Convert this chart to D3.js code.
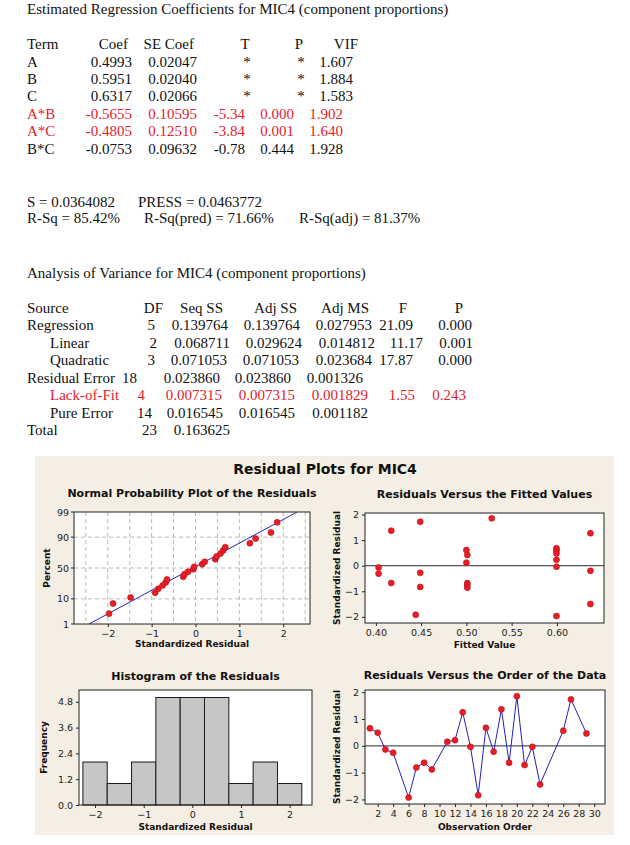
<!DOCTYPE html>
<meta charset="utf-8">
<style>
  body { margin: 0; background: #fff; }
  .rep { font-family: "Liberation Serif", "Times New Roman", serif; font-size: 15px; fill: #111; }
  .rep.hot { fill: #e3202c; }
  .gt { font-family: "DejaVu Sans", Verdana, sans-serif; font-weight: bold; fill: #111; }
  .ax text { font-family: "DejaVu Sans", Verdana, sans-serif; font-size: 9.5px; fill: #222; }
  .ax line { stroke: #222; }
  .ax path { display: none; }
</style>
<svg width="630" height="845"></svg>
<script src="https://cdn.jsdelivr.net/npm/d3@7"></script>
<script>
// ---- coefficient table ----
var coefHeader = ["Term", "Coef", "SE Coef", "T", "P", "VIF"];
var coefTerms = ["A", "B", "C", "A*B", "A*C", "B*C"];
var coefValues = ["0.4993", "0.5951", "0.6317", "-0.5655", "-0.4805", "-0.0753"];
var coefSE = ["0.02047", "0.02040", "0.02066", "0.10595", "0.12510", "0.09632"];
var coefT = ["*", "*", "*", "-5.34", "-3.84", "-0.78"];
var coefP = ["*", "*", "*", "0.000", "0.001", "0.444"];
var coefVIF = ["1.607", "1.884", "1.583", "1.902", "1.640", "1.928"];
var coefRed = [false, false, false, true, true, false];

var statsLine1 = ["S = 0.0364082", "PRESS = 0.0463772"];
var statsLine2 = ["R-Sq = 85.42%", "R-Sq(pred) = 71.66%", "R-Sq(adj) = 81.37%"];

// ---- analysis of variance ----
var anovaHeader = ["Source", "DF", "Seq SS", "Adj SS", "Adj MS", "F", "P"];
var anovaSource = ["Regression", "Linear", "Quadratic", "Residual Error", "Lack-of-Fit", "Pure Error", "Total"];
var anovaIndent = [false, true, true, false, true, true, false];
var anovaDF = ["5", "2", "3", "18", "4", "14", "23"];
var anovaSeqSS = ["0.139764", "0.068711", "0.071053", "0.023860", "0.007315", "0.016545", "0.163625"];
var anovaAdjSS = ["0.139764", "0.029624", "0.071053", "0.023860", "0.007315", "0.016545", ""];
var anovaAdjMS = ["0.027953", "0.014812", "0.023684", "0.001326", "0.001829", "0.001182", ""];
var anovaF = ["21.09", "11.17", "17.87", "", "1.55", "", ""];
var anovaP = ["0.000", "0.001", "0.000", "", "0.243", "", ""];
var anovaRed = [false, false, false, false, true, false, false];

// ---- residual plots ----
var probResid = [-1.97, -1.88, -1.48, -0.92, -0.85, -0.75, -0.68, -0.65, -0.28, -0.25, -0.17, -0.05,
                 -0.03, 0.15, 0.21, 0.45, 0.48, 0.57, 0.63, 0.68, 1.24, 1.37, 1.72, 1.86];
var probPct = [2.9, 7.0, 11.1, 15.2, 19.3, 23.4, 27.5, 31.6, 35.7, 39.8, 43.9, 48.0,
               52.0, 56.1, 60.2, 64.3, 68.4, 72.5, 76.6, 80.7, 84.8, 88.9, 93.0, 97.1];
var probFitMean = -0.055, probFitSd = 1.02;
var probTicks = [1, 10, 50, 90, 99];

var fittedVals = [0.403, 0.403, 0.417, 0.417, 0.444, 0.449, 0.449, 0.449, 0.500, 0.501, 0.500, 0.501,
                  0.501, 0.501, 0.528, 0.5995, 0.5995, 0.5995, 0.5995, 0.5995, 0.5995, 0.637, 0.637, 0.637];
var fittedResid = [-0.07, -0.31, 1.37, -0.68, -1.92, 1.72, -0.28, -0.83, 0.61, 0.42, 0.12, -0.68,
                   -0.76, -0.86, 1.85, 0.68, 0.59, 0.48, 0.23, -0.04, -1.97, 1.27, -0.20, -1.50];

var histCenters = [-2, -1.5, -1, -0.5, 0, 0.5, 1, 1.5, 2];
var histCounts = [2, 1, 2, 5, 5, 5, 1, 2, 1];
var histYTicks = [0, 1.2, 2.4, 3.6, 4.8];

var obsOrder = [1, 2, 3, 4, 6, 7, 8, 9, 11, 12, 13, 14, 15, 16, 17, 18, 19, 20, 21, 22, 23, 26, 27, 29];
var obsResid = [0.65, 0.49, -0.14, -0.26, -1.93, -0.81, -0.63, -0.88, 0.15, 0.21, 1.25, -0.04,
                -1.84, 0.67, -0.22, 1.36, -0.63, 1.85, -0.72, -0.04, -1.44, 0.56, 1.73, 0.46];

var residTicks = [-2, -1, 0, 1, 2];

var svg = d3.select("svg");

function txt(g, x, y, s, anchor, cls) {
  return g.append("text").attr("x", x).attr("y", y).attr("text-anchor", anchor || "start")
    .attr("class", cls || "rep").text(s);
}

// ================= text report =================
var rep = svg.append("g");
txt(rep, 27, 14, "Estimated Regression Coefficients for MIC4 (component proportions)");

var hx = [[27, "start"], [128, "end"], [194, "end"], [245, "middle"], [299, "middle"], [358, "end"]];
coefHeader.forEach(function(h, i) { txt(rep, hx[i][0], 49, h, hx[i][1]); });

coefTerms.forEach(function(t, i) {
  var y = 66.5 + i * 17.4;
  var cls = coefRed[i] ? "rep hot" : "rep";
  var star = coefT[i] === "*";
  txt(rep, 27, y, t, "start", cls);
  txt(rep, 132, y, coefValues[i], "end", cls);
  txt(rep, 197, y, coefSE[i], "end", cls);
  txt(rep, star ? 247 : 245, y, coefT[i], star ? "middle" : "end", cls);
  txt(rep, star ? 301 : 294, y, coefP[i], star ? "middle" : "end", cls);
  txt(rep, star ? 353 : 343, y, coefVIF[i], "end", cls);
});

txt(rep, 27, 207, statsLine1[0]);
txt(rep, 138, 207, statsLine1[1]);
txt(rep, 27, 222.5, statsLine2[0]);
txt(rep, 144, 222.5, statsLine2[1]);
txt(rep, 299, 222.5, statsLine2[2]);

txt(rep, 27, 278, "Analysis of Variance for MIC4 (component proportions)");

var ahx = [[27, "start"], [163, "end"], [223, "end"], [297, "end"], [369, "end"], [407, "end"], [463, "end"]];
anovaHeader.forEach(function(h, i) { txt(rep, ahx[i][0], 312.5, h, ahx[i][1]); });

// right edges of each row's cells (the original columns drift a little)
var anovaX = [
  [155, 228, 300, 372, 413, 472],
  [157, 230, 302, 375, 423, 473],
  [155, 227, 299, 372, 413, 472],
  [137, 220, 291, 363],
  [145, 222, 295, 368, 415, 466],
  [152, 223, 295, 368],
  [157, 230]
];
anovaSource.forEach(function(s, i) {
  var y = 330 + i * 17.5;
  var cls = anovaRed[i] ? "rep hot" : "rep";
  txt(rep, anovaIndent[i] ? 50 : 27, y, s, "start", cls);
  var cells = [anovaDF[i], anovaSeqSS[i], anovaAdjSS[i], anovaAdjMS[i], anovaF[i], anovaP[i]];
  cells.forEach(function(c, j) {
    if (c) txt(rep, anovaX[i][j], y, c, "end", cls);
  });
});

// ================= residual plots panel =================
svg.append("rect").attr("x", 35).attr("y", 456).attr("width", 579).attr("height", 379).attr("fill", "#f5eee4");
txt(svg, 325, 474, "Residual Plots for MIC4", "middle", "gt").attr("font-size", 14);

function probit(p) {
  var a = [-39.69683028665376, 220.9460984245205, -275.9285104469687, 138.3577518672690, -30.66479806614716, 2.506628277459239];
  var b = [-54.47609879822406, 161.5858368580409, -155.6989798598866, 66.80131188771972, -13.28068155288572];
  var c = [-0.007784894002430293, -0.3223964580411365, -2.400758277161838, -2.549732539343734, 4.374664141464968, 2.938163982698783];
  var d = [0.007784695709041462, 0.3224671290700398, 2.445134137142996, 3.754408661907416];
  var q, r;
  if (p < 0.02425) {
    q = Math.sqrt(-2 * Math.log(p));
    return (((((c[0]*q+c[1])*q+c[2])*q+c[3])*q+c[4])*q+c[5]) / ((((d[0]*q+d[1])*q+d[2])*q+d[3])*q+1);
  }
  if (p > 1 - 0.02425) return -probit(1 - p);
  q = p - 0.5; r = q * q;
  return (((((a[0]*r+a[1])*r+a[2])*r+a[3])*r+a[4])*r+a[5])*q / (((((b[0]*r+b[1])*r+b[2])*r+b[3])*r+b[4])*r+1);
}

function panel(box, title, xlab, ylab, titleY, xlabY, ylabX) {
  var g = svg.append("g");
  g.append("rect").attr("x", box[0]).attr("y", box[1]).attr("width", box[2] - box[0])
    .attr("height", box[3] - box[1]).attr("fill", "#fff");
  var cx = (box[0] + box[2]) / 2;
  txt(g, cx, titleY, title, "middle", "gt").attr("font-size", 11);
  txt(g, cx, xlabY, xlab, "middle", "gt").attr("font-size", 9);
  var cy = (box[1] + box[3]) / 2;
  txt(g, 0, 0, ylab, "middle", "gt").attr("font-size", 9)
    .attr("transform", "translate(" + ylabX + "," + cy + ") rotate(-90)");
  return g;
}
function frame(g, box) {
  g.append("rect").attr("x", box[0]).attr("y", box[1]).attr("width", box[2] - box[0])
    .attr("height", box[3] - box[1]).attr("fill", "none").attr("stroke", "#222").attr("stroke-width", 1);
}
function dots(g, pts) {
  g.append("g").selectAll("circle").data(pts).enter().append("circle")
    .attr("cx", function(d) { return d[0]; }).attr("cy", function(d) { return d[1]; })
    .attr("r", 3).attr("fill", "#ec1c24").attr("stroke", "#b0101a").attr("stroke-width", 0.6);
}

// --- Normal probability plot ---
var nBox = [74, 512, 310, 624];
var gN = panel(nBox, "Normal Probability Plot of the Residuals", "Standardized Residual", "Percent", 497, 647, 50);
var xN = d3.scaleLinear().domain([-2.77, 2.61]).range([nBox[0], nBox[2]]);
var zN = d3.scaleLinear().domain([probit(0.01), probit(0.99)]).range([nBox[3], nBox[1]]);
var yN = function(p) { return zN(probit(p / 100)); };
var gridN = gN.append("g").attr("stroke", "#b9b9b9").attr("stroke-dasharray", "4,3");
d3.range(-2.5, 2.6, 0.5).forEach(function(v) {
  gridN.append("line").attr("x1", xN(v)).attr("x2", xN(v)).attr("y1", nBox[1]).attr("y2", nBox[3]);
});
[10, 50, 90].forEach(function(p) {
  gridN.append("line").attr("x1", nBox[0]).attr("x2", nBox[2]).attr("y1", yN(p)).attr("y2", yN(p));
});
gN.append("g").attr("class", "ax").attr("transform", "translate(0," + nBox[3] + ")")
  .call(d3.axisBottom(xN).tickValues([-2, -1, 0, 1, 2]).tickSize(3).tickSizeOuter(0).tickFormat(d3.format("d")));
var tN = gN.append("g").attr("class", "ax");
probTicks.forEach(function(p) {
  tN.append("line").attr("x1", nBox[0] - 3).attr("x2", nBox[0]).attr("y1", yN(p)).attr("y2", yN(p));
  tN.append("text").attr("x", nBox[0] - 5).attr("y", yN(p) + 3.5).attr("text-anchor", "end").text(p);
});
var zLo = probit(0.01), zHi = probit(0.99);
gN.append("line").attr("x1", xN(probFitMean + probFitSd * zLo)).attr("y1", zN(zLo))
  .attr("x2", xN(probFitMean + probFitSd * zHi)).attr("y2", zN(zHi))
  .attr("stroke", "#2222bb").attr("stroke-width", 1);
dots(gN, probResid.map(function(r, i) { return [xN(r), yN(probPct[i])]; }));
frame(gN, nBox);

// --- Residuals versus fitted values ---
var fBox = [365, 513, 604, 623];
var gF = panel(fBox, "Residuals Versus the Fitted Values", "Fitted Value", "Standardized Residual", 498, 648, 340);
var xF = d3.scaleLinear().domain([0.388, 0.652]).range([fBox[0], fBox[2]]);
var yF = d3.scaleLinear().domain([-2.24, 2.06]).range([fBox[3], fBox[1]]);
gF.append("g").attr("class", "ax").attr("transform", "translate(0," + fBox[3] + ")")
  .call(d3.axisBottom(xF).tickValues([0.40, 0.45, 0.50, 0.55, 0.60]).tickSize(3).tickSizeOuter(0).tickFormat(d3.format(".2f")));
gF.append("g").attr("class", "ax").attr("transform", "translate(" + fBox[0] + ",0)")
  .call(d3.axisLeft(yF).tickValues(residTicks).tickSize(3).tickSizeOuter(0).tickFormat(d3.format("d")));
gF.append("line").attr("x1", fBox[0]).attr("x2", fBox[2]).attr("y1", yF(0)).attr("y2", yF(0))
  .attr("stroke", "#555").attr("stroke-width", 1.2);
dots(gF, fittedVals.map(function(v, i) { return [xF(v), yF(fittedResid[i])]; }));
frame(gF, fBox);

// --- Histogram ---
var hBox = [79, 690, 312, 805];
var gH = panel(hBox, "Histogram of the Residuals", "Standardized Residual", "Frequency", 680, 830, 47);
var xH = d3.scaleLinear().domain([-2.33, 2.46]).range([hBox[0], hBox[2]]);
var yH = d3.scaleLinear().domain([0, 5.35]).range([hBox[3], hBox[1]]);
gH.append("g").selectAll("rect").data(histCounts).enter().append("rect")
  .attr("x", function(d, i) { return xH(histCenters[i] - 0.25); })
  .attr("width", function(d, i) { return xH(histCenters[i] + 0.25) - xH(histCenters[i] - 0.25); })
  .attr("y", function(d) { return yH(d); })
  .attr("height", function(d) { return yH(0) - yH(d); })
  .attr("fill", "#c6c6c6").attr("stroke", "#1a1a1a").attr("stroke-width", 1);
gH.append("g").attr("class", "ax").attr("transform", "translate(0," + hBox[3] + ")")
  .call(d3.axisBottom(xH).tickValues([-2, -1, 0, 1, 2]).tickSize(3).tickSizeOuter(0).tickFormat(d3.format("d")));
gH.append("g").attr("class", "ax").attr("transform", "translate(" + hBox[0] + ",0)")
  .call(d3.axisLeft(yH).tickValues(histYTicks).tickSize(3).tickSizeOuter(0).tickFormat(d3.format(".1f")));
frame(gH, hBox);

// --- Residuals versus order ---
var oBox = [365, 690, 605, 804];
var gO = panel(oBox, "Residuals Versus the Order of the Data", "Observation Order", "Standardized Residual", 679, 830, 340);
var xO = d3.scaleLinear().domain([0.36, 31.4]).range([oBox[0], oBox[2]]);
var yO = d3.scaleLinear().domain([-2.17, 2.08]).range([oBox[3], oBox[1]]);
gO.append("g").attr("class", "ax").attr("transform", "translate(0," + oBox[3] + ")")
  .call(d3.axisBottom(xO).tickValues(d3.range(2, 31, 2)).tickSize(3).tickSizeOuter(0));
gO.append("g").attr("class", "ax").attr("transform", "translate(" + oBox[0] + ",0)")
  .call(d3.axisLeft(yO).tickValues(residTicks).tickSize(3).tickSizeOuter(0).tickFormat(d3.format("d")));
gO.append("line").attr("x1", oBox[0]).attr("x2", oBox[2]).attr("y1", yO(0)).attr("y2", yO(0))
  .attr("stroke", "#555").attr("stroke-width", 1.2);
var lineO = d3.line().x(function(d, i) { return xO(obsOrder[i]); }).y(function(d) { return yO(d); });
gO.append("path").attr("d", lineO(obsResid)).attr("fill", "none").attr("stroke", "#2020b8").attr("stroke-width", 1);
dots(gO, obsOrder.map(function(o, i) { return [xO(o), yO(obsResid[i])]; }));
frame(gO, oBox);
</script>
